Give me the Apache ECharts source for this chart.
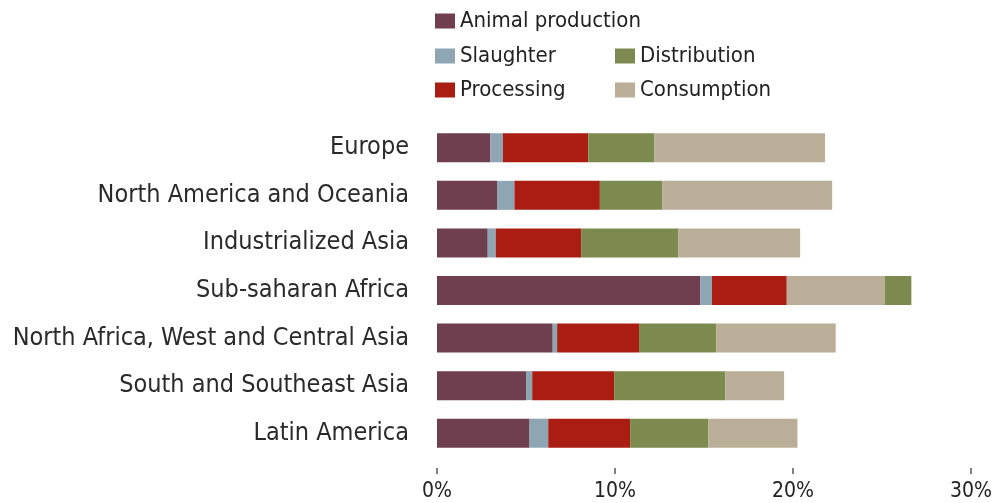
<!DOCTYPE html>
<html>
<head>
<meta charset="utf-8">
<script src="https://cdn.jsdelivr.net/npm/echarts@6/dist/echarts.min.js"></script>
<style>
html,body{margin:0;padding:0;background:#fff;}
#chart{width:996px;height:503px;}
</style>
</head>
<body>
<div id="chart"></div>
<script>
var regions = ['Europe', 'North America and Oceania', 'Industrialized Asia', 'Sub-saharan Africa',
    'North Africa, West and Central Asia', 'South and Southeast Asia', 'Latin America'];
var animalProduction = [3.0, 3.4, 2.85, 14.8, 6.5, 5.0, 5.2];
var slaughter = [0.7, 0.95, 0.45, 0.65, 0.25, 0.35, 1.05];
var processing = [4.8, 4.8, 4.8, 4.2, 4.6, 4.6, 4.6];
var distribution = [3.7, 3.5, 5.45, 1.5, 4.35, 6.25, 4.4];
var consumption = [9.6, 9.55, 6.85, 5.5, 6.7, 3.3, 5.0];
var xTicks = [0, 10, 20, 30];
// Sub-saharan Africa draws distribution after consumption
var distLastFor = 'Sub-saharan Africa';

var colors = {
    'Animal production': '#6f3f4f',
    'Slaughter': '#8ea5b4',
    'Processing': '#a91d13',
    'Distribution': '#7c8a50',
    'Consumption': '#baae98'
};
var font = '"Liberation Sans Narrow", "DejaVu Sans Condensed", sans-serif';

var myChart = echarts.init(document.getElementById('chart'));

function bar(name, data){
    return {
        name: name,
        type: 'bar',
        stack: 'total',
        barCategoryGap: '39%',
        itemStyle: {color: colors[name]},
        data: data
    };
}
var distMain = distribution.map(function(v, i){ return regions[i] === distLastFor ? '-' : v; });
var distTail = distribution.map(function(v, i){ return regions[i] === distLastFor ? v : '-'; });

function legend(left, top, name){
    return {
        left: left, top: top, data: [name],
        itemWidth: 20, itemHeight: 15, itemGap: 6,
        icon: 'rect',
        textStyle: {fontFamily: font, fontSize: 22, color: '#222'}
    };
}

var option = {
    animation: false,
    legend: [
        legend(430, 5, 'Animal production'),
        legend(430, 40, 'Slaughter'),
        legend(430, 74, 'Processing'),
        legend(610, 40, 'Distribution'),
        legend(610, 74, 'Consumption')
    ],
    grid: {left: 437, right: 25, top: 124, bottom: 46},
    xAxis: {
        type: 'value',
        min: 0, max: 30, interval: 10,
        offset: 11,
        axisLine: {show: false},
        axisTick: {show: true, length: 6, lineStyle: {color: '#555', width: 1.5}},
        splitLine: {show: false},
        axisLabel: {
            fontFamily: font, fontSize: 21, color: '#222', margin: 13,
            formatter: function(v){ return xTicks.indexOf(v) >= 0 ? v + '%' : ''; }
        }
    },
    yAxis: {
        type: 'category',
        inverse: true,
        data: regions,
        axisLine: {show: false},
        axisTick: {show: false},
        axisLabel: {fontFamily: font, fontSize: 25, color: '#2a2a2a', margin: 28}
    },
    series: [
        bar('Animal production', animalProduction),
        bar('Slaughter', slaughter),
        bar('Processing', processing),
        bar('Distribution', distMain),
        bar('Consumption', consumption),
        bar('Distribution', distTail)
    ]
};
myChart.setOption(option);
</script>
</body>
</html>
